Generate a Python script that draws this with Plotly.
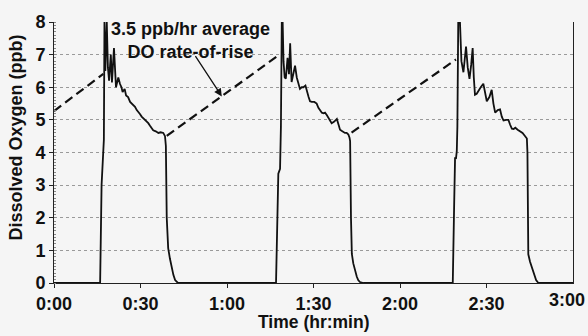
import plotly.graph_objects as go

# DO trace: time in minutes, dissolved oxygen in ppb
time_min = [
    0, 16.0, 16.5, 17.0, 17.3, 17.5, 17.8, 18.3, 18.7, 19.1, 19.7, 20.1, 20.8, 21.5, 22.3, 22.9,
    23.4, 23.8, 24.5, 25.0, 25.7, 26.4, 27.0, 27.5, 28.1, 28.7, 29.3, 29.8, 30.4, 31.0, 31.6,
    32.1, 32.7, 33.3, 33.9, 34.4, 35.3, 36.2, 37.0, 37.9, 38.5, 38.8, 39.1, 39.6, 40.2, 40.8,
    41.4, 42.0, 43.0,
    77.0, 77.5, 77.8, 78.4, 78.7, 79.0, 79.3, 79.6, 80.0, 80.4, 81.0, 81.5, 81.9, 82.4, 83.0,
    83.6, 84.2, 84.7, 85.3, 85.9, 86.5, 87.2, 87.7, 88.3, 88.8, 89.4, 90.3, 91.1, 91.7, 92.3,
    92.9, 93.5, 94.0, 94.6, 95.1, 95.7, 96.3, 97.2, 98.1, 98.7, 99.2, 100.0, 100.9, 101.5,
    102.1, 102.5, 102.7, 103.0, 103.3, 103.8, 104.4, 105.0, 105.5, 106.1, 107.3,
    138.3, 138.8, 139.1, 139.4, 139.7, 139.9, 140.2, 140.8, 141.3, 142.0, 142.9, 143.5, 144.1,
    144.7, 145.2, 145.6, 146.0, 146.6, 147.2, 148.0, 148.9, 149.5, 150.1, 151.0, 151.8, 152.4,
    153.0, 153.9, 154.7, 155.3, 155.9, 156.8, 157.6, 158.2, 158.8, 159.4, 160.0, 160.8, 161.6,
    162.5, 163.4, 164.0, 164.2, 164.4, 164.5, 165.1, 165.7, 166.4, 167.2, 168.0, 180.0,
]
do_ppb = [
    0, 0, 3.0, 4.0, 4.4, 8.0, 6.5, 8.0, 6.6, 6.2, 7.0, 6.15, 7.2, 6.0, 6.3, 6.1,
    6.0, 5.85, 5.95, 5.75, 5.7, 5.55, 5.5, 5.45, 5.4, 5.3, 5.25, 5.18, 5.1, 5.05, 5.0,
    4.95, 4.9, 4.82, 4.75, 4.68, 4.65, 4.6, 4.62, 4.6, 4.5, 4.2, 2.0, 1.07, 0.75, 0.48,
    0.25, 0.09, 0.0,
    0.0, 2.85, 3.35, 3.5, 4.8, 8.0, 8.0, 6.8, 6.3, 6.26, 6.9, 6.4, 7.35, 6.16, 6.4,
    6.66, 6.3, 6.1, 5.95, 6.0, 6.0, 6.05, 5.85, 5.7, 5.57, 5.55, 5.55, 5.5, 5.37, 5.3,
    5.22, 5.2, 5.22, 5.15, 5.07, 4.98, 4.9, 4.95, 5.03, 4.85, 4.7, 4.65, 4.6, 4.6,
    4.55, 4.45, 4.35, 2.0, 0.89, 0.6, 0.35, 0.2, 0.09, 0.03, 0.0,
    0.0, 2.5, 3.85, 3.8, 4.05, 4.8, 8.0, 8.0, 6.8, 6.46, 7.25, 6.6, 6.26,
    6.7, 7.2, 6.3, 5.77, 5.8, 5.87, 6.0, 6.11, 5.8, 5.57, 5.7, 5.92, 5.5,
    5.22, 5.3, 5.32, 5.1, 4.98, 5.0, 5.0, 4.85, 4.73, 4.72, 4.76, 4.7, 4.65,
    4.6, 4.5, 4.43, 4.0, 2.0, 0.88, 0.65, 0.48, 0.25, 0.09, 0.0, 0.0,
]

# Rate-of-rise dashed segments (start/end)
rise_t_start = [0.0, 39.1, 103.2]
rise_t_end = [17.1, 78.2, 139.4]
rise_v_start = [5.27, 4.51, 4.61]
rise_v_end = [6.41, 7.0, 6.85]

tick_vals = [0, 30, 60, 90, 120, 150, 180]
tick_text = ["0:00", "0:30", "1:00", "1:30", "2:00", "2:30", "3:00"]
y_ticks = [0, 1, 2, 3, 4, 5, 6, 7, 8]

note_text = "3.5 ppb/hr average<br>DO rate-of-rise"

dash_x, dash_y = [], []
for a, b, c, d in zip(rise_t_start, rise_t_end, rise_v_start, rise_v_end):
    dash_x += [a, b, None]
    dash_y += [c, d, None]

FONT = "Liberation Sans, Arial, sans-serif"
bg = "#f5f5f5"
tfont = dict(family=FONT, size=18, color="#111", weight="bold")

fig = go.Figure()
fig.add_trace(go.Scatter(x=dash_x, y=dash_y, mode="lines",
                         line=dict(color="#111", width=2.2, dash="9px,5px"),
                         hoverinfo="skip", showlegend=False))
fig.add_trace(go.Scatter(x=time_min, y=do_ppb, mode="lines",
                         line=dict(color="#111", width=1.8),
                         showlegend=False))

fig.add_annotation(x=47.2, y=7.42, xref="x", yref="y", text=note_text,
                   showarrow=False, align="center", xanchor="center", yanchor="middle",
                   font=dict(family=FONT, size=18, color="#111", weight="bold"))
fig.add_annotation(x=58.2, y=5.72, ax=48.7, ay=7.0, axref="x", ayref="y",
                   xref="x", yref="y", text="", showarrow=True,
                   arrowhead=2, arrowsize=1.2, arrowwidth=1.3, arrowcolor="#111")

# last tick label drawn as annotation so it stays inside the page edge
fig.add_annotation(x=1.0, y=0, xref="paper", yref="paper", yanchor="top",
                   xanchor="right", xshift=14, yshift=-5, text=tick_text[-1],
                   showarrow=False, font=tfont)

# axis titles
fig.add_annotation(x=0.5, y=-0.105, xref="paper", yref="paper", yanchor="top",
                   xanchor="center", text="Time (hr:min)", showarrow=False,
                   font=dict(family=FONT, size=17.5, color="#111", weight="bold"))
fig.add_annotation(x=(15.5 - 54) / 519, y=(283 - 133) / 270, xref="paper", yref="paper",
                   xanchor="center", yanchor="middle", showarrow=False,
                   text="Dissolved Oxygen (ppb)", textangle=-90,
                   font=dict(family=FONT, size=18, color="#111", weight="bold"))

fig.update_xaxes(range=[0, 180], tickvals=tick_vals[:-1], ticktext=tick_text[:-1],
                 showgrid=False, zeroline=False, showline=True, linecolor="#222",
                 linewidth=1, ticks="outside", ticklen=4, tickcolor="#222",
                 tickfont=tfont)
fig.update_yaxes(range=[0, 8], tickvals=y_ticks,
                 showgrid=True, gridcolor="#9a9a9a", griddash="dot", gridwidth=1,
                 zeroline=False, showline=True, linecolor="#222", linewidth=1,
                 mirror=True, ticks="outside", ticklen=4, tickcolor="#222",
                 minor=dict(ticks="inside", ticklen=2, dtick=0.1, tickcolor="#888", showgrid=False),
                 tickfont=tfont)

fig.update_layout(width=588, height=336, margin=dict(l=54, r=15, t=13, b=53),
                  paper_bgcolor=bg, plot_bgcolor=bg, showlegend=False)

fig.write_html("out.html")
